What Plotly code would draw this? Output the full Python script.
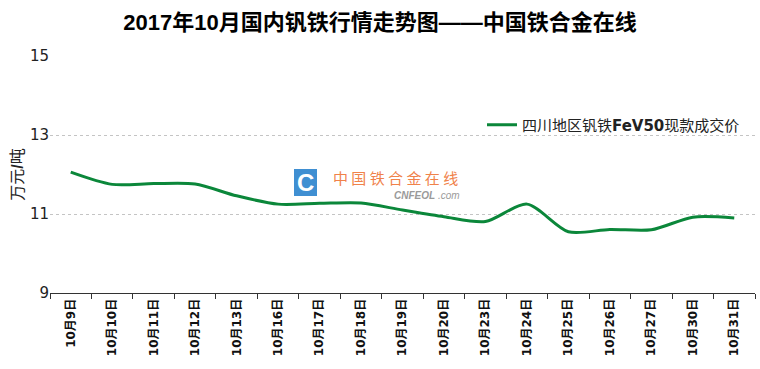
import plotly.graph_objects as go

dates = ["10月9日", "10月10日", "10月11日", "10月12日", "10月13日", "10月16日", "10月17日",
         "10月18日", "10月19日", "10月20日", "10月23日", "10月24日", "10月25日", "10月26日",
         "10月27日", "10月30日", "10月31日"]
prices = [12.06, 11.75, 11.77, 11.76, 11.46, 11.25, 11.27, 11.28, 11.10, 10.93, 10.81,
          11.25, 10.55, 10.61, 10.60, 10.92, 10.90]
series_name = "四川地区钒铁<b>FeV50</b>现款成交价"
y_ticks = [9, 11, 13, 15]

font_family = "Liberation Sans, Noto Sans CJK SC, sans-serif"
PL, PW, PB, PH = 50, 705, 293, 237


def px(x):
    return (x - PL) / PW


def py(y):
    return (PB - y) / PH


fig = go.Figure()
fig.add_trace(go.Scatter(
    x=dates, y=prices, mode="lines", name=series_name,
    line=dict(color="#0b873a", width=3, shape="spline", smoothing=0.8),
))

fig.update_layout(
    width=760, height=369,
    margin=dict(l=PL, r=5, t=56, b=76),
    paper_bgcolor="white", plot_bgcolor="white",
    font=dict(family=font_family, color="#222"),
    title=dict(text="<b>2017年10月国内钒铁行情走势图——中国铁合金在线</b>",
               x=0.5, xanchor="center", y=0.94, yanchor="middle",
               font=dict(size=22, color="#000", family=font_family)),
    showlegend=True,
    legend=dict(x=px(482), y=py(125), xanchor="left", yanchor="middle",
                bgcolor="rgba(0,0,0,0)",
                font=dict(size=15, color="#222", family="DejaVu Sans, Noto Sans CJK SC"),
                itemwidth=30),
    xaxis=dict(
        type="category", tickmode="array", tickvals=dates,
        ticktext=["<b>" + d + "</b>" for d in dates],
        tickangle=-90, tickson="boundaries", ticks="outside", ticklen=5, tickcolor="#333",
        showline=True, linecolor="#333", linewidth=1, showgrid=False,
        tickfont=dict(size=12, color="#111", family="DejaVu Sans, Noto Sans CJK SC"),
        range=[-0.5, len(dates) - 0.5],
    ),
    yaxis=dict(
        range=[9, 15], tickmode="array", tickvals=y_ticks,
        showgrid=True, gridcolor="#c4c4c4", griddash="dot", gridwidth=1,
        zeroline=False, showline=False, ticks="", ticklen=0,
        tickfont=dict(size=15, color="#222", family="DejaVu Sans, Noto Sans CJK SC"),
        title=dict(text="万元<b>/</b>吨", font=dict(size=16, color="#222"), standoff=2),
    ),
)

# watermark logo
fig.add_shape(type="rect", xref="paper", yref="paper",
              x0=px(294), x1=px(317), y0=py(196), y1=py(169),
              fillcolor="#3f8fd2", line=dict(width=0), layer="above")
fig.add_annotation(xref="paper", yref="paper", x=px(305.5), y=py(182.5),
                   text="<b>C</b>", showarrow=False,
                   font=dict(size=24, color="white", family="Liberation Sans"))
fig.add_annotation(xref="paper", yref="paper", x=px(331), y=py(177),
                   xanchor="left", yanchor="middle",
                   text="中 国 铁 合 金 在 线", showarrow=False,
                   font=dict(size=15, color="#f0824a", family="Noto Sans CJK SC"))
fig.add_annotation(xref="paper", yref="paper", x=px(462), y=py(195),
                   xanchor="right", yanchor="middle",
                   text="<i><b>CNFEOL</b> .com</i>", showarrow=False,
                   font=dict(size=10, color="#9a9a9a", family="Liberation Sans"))

fig.write_html("out.html")
